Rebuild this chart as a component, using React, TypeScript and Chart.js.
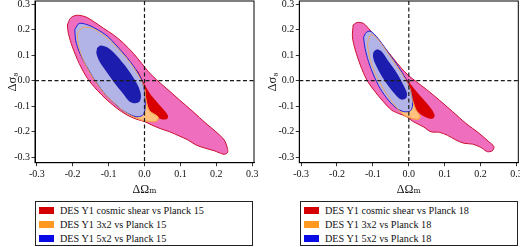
import React, { useEffect, useRef } from "react";
import { Chart, registerables } from "chart.js";

Chart.register(...registerables);

// ---------- data ----------
const X_TICKS = [-0.3, -0.2, -0.1, 0, 0.1, 0.2, 0.3];
const Y_TICKS = [-0.3, -0.2, -0.1, 0, 0.1, 0.2, 0.3];
const X_RANGE = [-0.305, 0.305];
const Y_RANGE = [-0.321, 0.312];
const REF_POINT = [0, 0];

const X_TITLE = "ΔΩₘ";
const Y_TITLE = "Δσ₈";

const LEGEND_P15 = [
  "DES Y1 cosmic shear vs Planck 15",
  "DES Y1 3x2 vs Planck 15",
  "DES Y1 5x2 vs Planck 15",
];
const LEGEND_P18 = [
  "DES Y1 cosmic shear vs Planck 18",
  "DES Y1 3x2 vs Planck 18",
  "DES Y1 5x2 vs Planck 18",
];

// Planck 15 panel contours (ΔΩm, Δσ8)
const P15_SHEAR_95 = [
  [-0.215, 0.218], [-0.206, 0.245], [-0.189, 0.256], [-0.164, 0.25], [-0.141, 0.231],
  [-0.114, 0.205], [-0.086, 0.179], [-0.058, 0.146], [-0.031, 0.107], [-0.008, 0.068],
  [0.011, 0.035], [0.034, 0.003], [0.061, -0.03], [0.098, -0.076], [0.135, -0.121],
  [0.171, -0.167], [0.199, -0.2], [0.222, -0.232], [0.231, -0.265], [0.231, -0.282],
  [0.222, -0.288], [0.208, -0.282], [0.194, -0.274], [0.171, -0.265], [0.144, -0.252],
  [0.121, -0.232], [0.098, -0.217], [0.07, -0.2], [0.043, -0.187], [0.015, -0.17],
  [0.0, -0.16], [-0.022, -0.151], [-0.049, -0.134], [-0.077, -0.108], [-0.104, -0.076],
  [-0.132, -0.037], [-0.159, 0.009], [-0.182, 0.068], [-0.201, 0.133], [-0.212, 0.185],
];
const P15_SHEAR_68 = [
  [-0.017, 0.035], [-0.001, -0.01], [0.015, -0.05], [0.038, -0.089], [0.058, -0.121],
  [0.066, -0.141], [0.061, -0.151], [0.047, -0.151], [0.029, -0.138], [0.006, -0.115],
  [-0.022, -0.076], [-0.049, -0.023], [-0.068, 0.029], [-0.063, 0.061], [-0.04, 0.061],
];
const P15_3X2_95 = [
  [-0.187, 0.185], [-0.173, 0.207], [-0.15, 0.207], [-0.123, 0.187], [-0.095, 0.155],
  [-0.068, 0.116], [-0.04, 0.07], [-0.015, 0.016], [0.0, -0.03], [0.004, -0.076],
  [0.014, -0.118], [0.038, -0.142], [0.034, -0.158], [0.015, -0.16], [-0.008, -0.154],
  [-0.049, -0.128], [-0.081, -0.091], [-0.112, -0.05], [-0.138, -0.001], [-0.159, 0.048],
  [-0.176, 0.1], [-0.185, 0.146],
];
const P15_5X2_95 = [
  [-0.194, 0.201], [-0.182, 0.224], [-0.159, 0.219], [-0.132, 0.201], [-0.104, 0.175],
  [-0.077, 0.136], [-0.049, 0.091], [-0.026, 0.048], [-0.008, 0.003], [0.001, -0.05],
  [0.002, -0.102], [-0.003, -0.132], [-0.017, -0.141], [-0.035, -0.136], [-0.058, -0.119],
  [-0.086, -0.086], [-0.114, -0.046], [-0.139, 0.003], [-0.161, 0.055], [-0.18, 0.107],
  [-0.192, 0.159],
];
const P15_5X2_68 = [
  [-0.132, 0.128], [-0.122, 0.138], [-0.103, 0.13], [-0.08, 0.102], [-0.056, 0.062],
  [-0.033, 0.016], [-0.017, -0.023], [-0.01, -0.056], [-0.013, -0.08], [-0.026, -0.088],
  [-0.042, -0.081], [-0.06, -0.05], [-0.083, -0.01], [-0.106, 0.035], [-0.125, 0.074],
  [-0.134, 0.107],
];

// Planck 18 panel contours
const P18_SHEAR_95 = [
  [-0.155, 0.218], [-0.144, 0.228], [-0.126, 0.224], [-0.108, 0.198], [-0.089, 0.166],
  [-0.066, 0.127], [-0.043, 0.087], [-0.02, 0.048], [-0.002, 0.022], [0.021, -0.004],
  [0.049, -0.034], [0.085, -0.076], [0.122, -0.121], [0.159, -0.167], [0.196, -0.206],
  [0.223, -0.239], [0.237, -0.258], [0.233, -0.274], [0.219, -0.278], [0.205, -0.265],
  [0.196, -0.258], [0.177, -0.248], [0.154, -0.245], [0.131, -0.232], [0.108, -0.214],
  [0.085, -0.202], [0.062, -0.2], [0.04, -0.18], [0.012, -0.16], [-0.006, -0.141],
  [-0.029, -0.128], [-0.048, -0.115], [-0.071, -0.082], [-0.094, -0.043], [-0.117, 0.003],
  [-0.135, 0.061], [-0.149, 0.12], [-0.157, 0.172],
];
const P18_SHEAR_68 = [
  [-0.025, 0.042], [0.003, -0.01], [0.026, -0.05], [0.049, -0.086], [0.065, -0.115],
  [0.072, -0.138], [0.065, -0.149], [0.049, -0.144], [0.03, -0.128], [0.007, -0.095],
  [-0.02, -0.05], [-0.043, 0.003], [-0.057, 0.048], [-0.048, 0.068],
];
const P18_3X2_95 = [
  [-0.115, 0.146], [-0.108, 0.177], [-0.097, 0.177], [-0.08, 0.151], [-0.057, 0.106],
  [-0.034, 0.058], [-0.013, 0.013], [0.003, -0.03], [0.01, -0.076], [0.02, -0.115],
  [0.032, -0.14], [0.026, -0.151], [0.007, -0.147], [-0.016, -0.132], [-0.043, -0.089],
  [-0.066, -0.043], [-0.087, 0.009], [-0.103, 0.061], [-0.112, 0.107],
];
const P18_5X2_95 = [
  [-0.126, 0.17], [-0.119, 0.188], [-0.108, 0.194], [-0.094, 0.179], [-0.075, 0.146],
  [-0.052, 0.1], [-0.029, 0.055], [-0.009, 0.009], [0.003, -0.03], [0.01, -0.069],
  [0.01, -0.102], [0.003, -0.119], [-0.014, -0.121], [-0.034, -0.108], [-0.057, -0.076],
  [-0.08, -0.03], [-0.098, 0.022], [-0.112, 0.074], [-0.122, 0.127],
];
const P18_5X2_68 = [
  [-0.1, 0.097], [-0.098, 0.112], [-0.089, 0.122], [-0.077, 0.116], [-0.056, 0.075],
  [-0.033, 0.029], [-0.015, -0.017], [-0.005, -0.05], [-0.008, -0.069], [-0.021, -0.074],
  [-0.036, -0.057], [-0.059, -0.017], [-0.08, 0.029], [-0.096, 0.074],
];

// ---------- styles ----------
const FONT = "'Liberation Serif', 'DejaVu Serif', serif";
const C = {
  pink: "#f06ebe",
  pinkLine: "#c8102e",
  red: "#d80000",
  orangeFill: "#ffc27e",
  orangeLine: "#f7a04a",
  lightBlue: "#b2b4e8",
  blueLine: "#2020d8",
  darkBlue: "#1c1cae",
};
const LEGEND_COLORS = ["#d40000", "#ff9922", "#0a0ae6"];

type Contours = {
  shear95: number[][];
  shear68: number[][];
  x95: number[][];
  f95: number[][];
  f68: number[][];
};

const closed = (a: number[][]) => [...a, a[0]].map(([x, y]) => ({ x, y }));

function ds(data: number[][], fill: string | null, line: string | null, width: number, order: number) {
  return {
    data: closed(data),
    showLine: true,
    fill: fill ? "shape" : false,
    backgroundColor: fill || "rgba(0,0,0,0)",
    borderColor: line || "rgba(0,0,0,0)",
    borderWidth: line ? width : 0,
    pointRadius: 0,
    pointHoverRadius: 0,
    tension: 0.3,
    order,
  };
}

const fmt = (v: number) => (Math.abs(v) < 1e-9 ? 0 : v).toFixed(1);

const framePlugin = {
  id: "frameAndRefs",
  afterDatasetsDraw(chart: any) {
    const { ctx, chartArea: a, scales } = chart;
    const x0 = scales.x.getPixelForValue(REF_POINT[0]);
    const y0 = scales.y.getPixelForValue(REF_POINT[1]);
    ctx.save();
    ctx.strokeStyle = "#1a1a1a";
    ctx.lineWidth = 1.2;
    ctx.setLineDash([4, 2.5]);
    ctx.beginPath();
    ctx.moveTo(x0, a.top);
    ctx.lineTo(x0, a.bottom);
    ctx.moveTo(a.left, y0);
    ctx.lineTo(a.right, y0);
    ctx.stroke();
    ctx.setLineDash([]);
    ctx.strokeStyle = "#000";
    ctx.lineWidth = 1;
    ctx.strokeRect(a.left, a.top, a.right - a.left, a.bottom - a.top);
    ctx.restore();
  },
};

type PanelProps = {
  contours: Contours;
  legend: string[];
  canvasLeft: number;
  yAxisWidth: number;
  padRight: number;
  legendLeft: number;
  legendWidth: number;
};

const CANVAS_W = 262;
const CANVAS_H = 200;
const PLOT_TOP = 1;
const X_AXIS_H = 37.3;

function Panel(p: PanelProps) {
  const ref = useRef<HTMLCanvasElement>(null);
  useEffect(() => {
    if (!ref.current) return;
    const c = p.contours;
    const chart = new Chart(ref.current, {
      type: "scatter",
      data: {
        datasets: [
          ds(c.shear95, C.pink, C.pinkLine, 1, 60),
          ds(c.shear68, C.red, null, 0, 50),
          ds(c.x95, C.orangeFill, C.orangeLine, 1, 40),
          ds(c.f95, C.lightBlue, C.blueLine, 1, 30),
          ds(c.x95, null, C.orangeLine, 0.9, 20),
          ds(c.f68, C.darkBlue, null, 0, 10),
        ] as any,
      },
      plugins: [framePlugin],
      options: {
        responsive: false,
        animation: false,
        events: [],
        layout: { padding: { top: PLOT_TOP, right: p.padRight, left: 0, bottom: 0 } },
        plugins: { legend: { display: false }, tooltip: { enabled: false } },
        scales: {
          x: {
            type: "linear",
            min: X_RANGE[0],
            max: X_RANGE[1],
            afterBuildTicks: (s: any) => {
              s.ticks = X_TICKS.map((v) => ({ value: v }));
            },
            afterFit: (s: any) => {
              s.height = X_AXIS_H;
              s.paddingLeft = 0;
              s.paddingRight = 0;
            },
            ticks: {
              callback: (v: any) => fmt(Number(v)),
              font: { family: FONT, size: 10 },
              color: "#111",
              padding: 2,
              maxRotation: 0,
              autoSkip: false,
            },
            grid: { drawOnChartArea: false, drawTicks: true, tickLength: 3.5, color: "#000", lineWidth: 0.8 },
            border: { display: true, color: "#000", width: 1 },
            title: {
              display: true,
              text: X_TITLE,
              font: { family: FONT, size: 12 },
              color: "#111",
              padding: { top: 0, bottom: 3 },
            },
          },
          y: {
            type: "linear",
            min: Y_RANGE[0],
            max: Y_RANGE[1],
            afterBuildTicks: (s: any) => {
              s.ticks = Y_TICKS.map((v) => ({ value: v }));
            },
            afterFit: (s: any) => {
              s.width = p.yAxisWidth;
              s.paddingTop = 0;
              s.paddingBottom = 0;
            },
            ticks: {
              callback: (v: any) => fmt(Number(v)),
              font: { family: FONT, size: 10 },
              color: "#111",
              padding: 1.5,
              autoSkip: false,
            },
            grid: { drawOnChartArea: false, drawTicks: true, tickLength: 3.5, color: "#000", lineWidth: 0.8 },
            border: { display: true, color: "#000", width: 1 },
            title: {
              display: true,
              text: Y_TITLE,
              font: { family: FONT, size: 12.5 },
              color: "#111",
              padding: { top: 5, bottom: 0 },
            },
          },
        },
      } as any,
    });
    return () => chart.destroy();
  }, []);

  return (
    <>
      <canvas
        ref={ref}
        width={CANVAS_W}
        height={CANVAS_H}
        style={{ position: "absolute", left: p.canvasLeft, top: 0, width: CANVAS_W, height: CANVAS_H }}
      />
      <div
        style={{
          position: "absolute",
          left: p.legendLeft,
          top: 201,
          width: p.legendWidth,
          height: 45,
          boxSizing: "border-box",
          border: "1px solid #222",
          background: "#fff",
          fontFamily: FONT,
          fontSize: 10.2,
          color: "#111",
        }}
      >
        {p.legend.map((label, i) => (
          <div
            key={label}
            style={{ position: "absolute", left: 0, top: 1.5 + i * 14, height: 14, lineHeight: "14px", whiteSpace: "nowrap" }}
          >
            <span
              style={{
                position: "absolute",
                left: 3,
                top: 3.3,
                width: 15,
                height: 7.5,
                background: LEGEND_COLORS[i],
              }}
            />
            <span style={{ position: "absolute", left: 24, top: 0 }}>{label}</span>
          </div>
        ))}
      </div>
    </>
  );
}

const P15: Contours = {
  shear95: P15_SHEAR_95,
  shear68: P15_SHEAR_68,
  x95: P15_3X2_95,
  f95: P15_5X2_95,
  f68: P15_5X2_68,
};
const P18: Contours = {
  shear95: P18_SHEAR_95,
  shear68: P18_SHEAR_68,
  x95: P18_3X2_95,
  f95: P18_5X2_95,
  f68: P18_5X2_68,
};

export default function App() {
  return (
    <div
      style={{
        position: "absolute",
        left: 0,
        top: 0,
        width: 520,
        height: 247,
        overflow: "hidden",
        background: "#fff",
      }}
    >
      <Panel contours={P15} legend={LEGEND_P15} canvasLeft={0} yAxisWidth={35} padRight={8} legendLeft={35} legendWidth={218} />
      <Panel contours={P18} legend={LEGEND_P18} canvasLeft={260} yAxisWidth={39.3} padRight={3.7} legendLeft={300} legendWidth={218} />
    </div>
  );
}
